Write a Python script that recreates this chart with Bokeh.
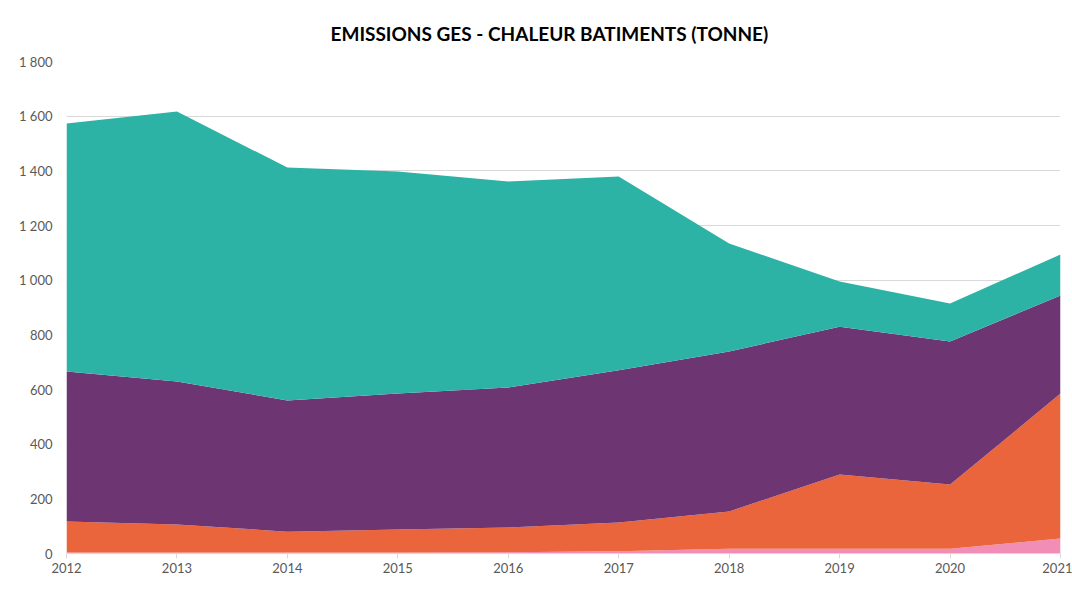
from bokeh.plotting import figure
from bokeh.models import ColumnDataSource, FixedTicker, CustomJSTickFormatter, Legend, LegendItem, Range1d
from bokeh.embed import file_html
from bokeh.resources import INLINE

years = [2012, 2013, 2014, 2015, 2016, 2017, 2018, 2019, 2020, 2021]
electricite = [2, 2, 2, 2, 2, 2, 2, 2, 2, 2]
biomasse = [2, 2, 2, 2, 3, 6, 15, 15, 15, 53]
chaleur = [113, 102, 76, 84, 90, 105, 137, 272, 235, 530]
gaz = [549, 523, 480, 497, 512, 557, 585, 541, 524, 359]
mazout = [907, 988, 852, 813, 754, 709, 395, 165, 139, 150]

series_names = ["Electricité chaleur non renouvelable", "Biomasse, biogaz",
                "Chaleur à distance", "Gaz", "Mazout"]
colors = ["#3FAF3F", "#F28DB5", "#EB653C", "#6E3573", "#2DB3A6"]
keys = ["electricite", "biomasse", "chaleur", "gaz", "mazout"]
y_ticks = [0, 200, 400, 600, 800, 1000, 1200, 1400, 1600, 1800]

source = ColumnDataSource(dict(year=years, electricite=electricite, biomasse=biomasse,
                               chaleur=chaleur, gaz=gaz, mazout=mazout))

FONT = "Lato"

p = figure(frame_width=994, frame_height=492, width=1072, height=610,
           output_backend="svg", toolbar_location=None,
           x_range=Range1d(2012, 2021), y_range=Range1d(0, 1800),
           min_border_left=66, min_border_right=12, min_border_top=61, min_border_bottom=0)

renderers = p.varea_stack(keys, x="year", source=source, color=colors)

p.title.text = "EMISSIONS GES - CHALEUR BATIMENTS (TONNE)"
p.title.align = "left"
p.title.offset = 264
p.title.text_font = FONT
p.title.text_font_size = "19px"
p.title.text_font_style = "bold"
p.title.text_color = "#000000"
p.title.standoff = 34

p.outline_line_color = None
p.background_fill_color = "white"
p.border_fill_color = "white"

# y axis
p.yaxis.ticker = FixedTicker(ticks=y_ticks)
p.yaxis.formatter = CustomJSTickFormatter(code="""
var s = String(Math.round(tick));
if (s.length > 3) { s = s.slice(0, s.length - 3) + ' ' + s.slice(s.length - 3); }
return s;
""")
p.yaxis.axis_line_color = None
p.yaxis.major_tick_line_color = None
p.yaxis.minor_tick_line_color = None
p.yaxis.major_label_text_font = FONT
p.yaxis.major_label_text_font_size = "13px"
p.yaxis.major_label_text_color = "#595959"
p.yaxis.major_label_standoff = 8

# x axis
p.xaxis.ticker = FixedTicker(ticks=years)
p.xaxis.axis_line_color = "#D9D9D9"
p.xaxis.major_tick_line_color = "#D9D9D9"
p.xaxis.major_tick_out = 5
p.xaxis.major_tick_in = 0
p.xaxis.minor_tick_line_color = None
p.xaxis.major_label_text_font = FONT
p.xaxis.major_label_text_font_size = "13px"
p.xaxis.major_label_text_color = "#595959"
p.xaxis.major_label_standoff = 4

p.xgrid.grid_line_color = None
p.ygrid.grid_line_color = "#D9D9D9"
p.ygrid.ticker = FixedTicker(ticks=y_ticks)
p.ygrid.level = "underlay"

items = [LegendItem(label=n, renderers=[r]) for n, r in zip(series_names, renderers)]
legend = Legend(items=items, orientation="horizontal", location="center",
                label_text_font=FONT, label_text_font_size="13px", label_text_color="#595959",
                glyph_width=9, glyph_height=9, label_standoff=3, spacing=24,
                padding=0, margin=9, border_line_color=None, background_fill_alpha=0,
                label_height=12)
p.add_layout(legend, "below")

open("out.html", "w").write(file_html(p, INLINE))
